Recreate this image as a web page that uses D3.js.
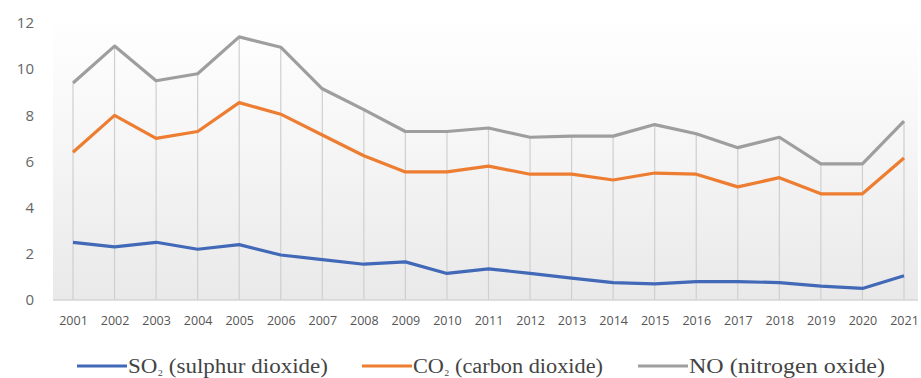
<!DOCTYPE html>
<html><head><meta charset="utf-8">
<script src="https://cdn.jsdelivr.net/npm/d3@7"></script>
<style>body{margin:0;background:#fff}svg{display:block}.leg{font-family:"Liberation Serif","Times New Roman","DejaVu Serif",serif}</style>
</head><body>
<svg id="c" width="921" height="378"></svg>
<script>
const years = ["2001","2002","2003","2004","2005","2006","2007","2008","2009","2010","2011","2012","2013","2014","2015","2016","2017","2018","2019","2020","2021"];
const so2 = [2.5,2.3,2.5,2.2,2.4,1.95,1.75,1.55,1.65,1.15,1.35,1.15,0.95,0.75,0.7,0.8,0.8,0.75,0.6,0.5,1.05];
const co2 = [3.9,5.7,4.5,5.1,6.15,6.1,5.4,4.7,3.9,4.4,4.45,4.3,4.5,4.45,4.8,4.65,4.1,4.55,4.0,4.1,5.1];
const no  = [3.0,3.0,2.5,2.5,2.85,2.9,2.0,2.0,1.75,1.75,1.65,1.6,1.65,1.9,2.1,1.75,1.7,1.75,1.3,1.3,1.6];
const yTicks = [0,2,4,6,8,10,12];
const seriesNames = ["so2","co2","no"];
const legendLabels = [["SO","₂"," (sulphur dioxide)"],["CO","₂"," (carbon dioxide)"],["NO",""," (nitrogen oxide)"]];
const colors = ["#4169b8","#ed7d31","#9e9e9e"];

const svg = d3.select("#c");
const rows = years.map((yr,i)=>({year:yr, so2:so2[i], co2:co2[i], no:no[i]}));
const stacked = d3.stack().keys(seriesNames)(rows);

const plotL = 53, plotR = 918;
const x = d3.scalePoint().domain(years).range([73, 904]);
const y = d3.scaleLinear().domain([0,12]).range([300, 23]);

const defs = svg.append("defs");
const grad = defs.append("linearGradient").attr("id","bg").attr("x1",0).attr("x2",0).attr("y1",0).attr("y2",1);
grad.append("stop").attr("offset","0%").attr("stop-color","#ffffff");
grad.append("stop").attr("offset","45%").attr("stop-color","#f6f6f6");
grad.append("stop").attr("offset","100%").attr("stop-color","#e9e9e9");
svg.append("rect").attr("x",plotL).attr("y",y(12)-10).attr("width",plotR-plotL).attr("height",y(0)-y(12)+10).attr("fill","url(#bg)");

// drop lines
const topSeries = stacked[2];
svg.append("g").selectAll("line").data(topSeries).join("line")
  .attr("x1",d=>x(d.data.year)).attr("x2",d=>x(d.data.year))
  .attr("y1",d=>y(d[1])).attr("y2",y(0))
  .attr("stroke","#cfcfcf").attr("stroke-width",1.2);

// baseline
svg.append("line").attr("x1",plotL).attr("x2",plotR).attr("y1",y(0)).attr("y2",y(0)).attr("stroke","#d4d4d4").attr("stroke-width",1.5);

// y axis
const ya = svg.append("g").attr("transform","translate(34,0)")
  .call(d3.axisLeft(y).tickValues(yTicks).tickSize(0).tickPadding(0));
ya.select(".domain").remove();
ya.selectAll("text").attr("font-family","Open Sans, sans-serif").attr("font-size",15).attr("fill","#666");

// x axis
const xa = svg.append("g").attr("transform","translate(0,316)")
  .call(d3.axisBottom(x).tickSize(0).tickPadding(0));
xa.select(".domain").remove();
xa.selectAll("text").attr("font-family","Open Sans, sans-serif").attr("font-size",12.5).attr("fill","#555");

// lines
const line = d3.line().x(d=>x(d.data.year)).y(d=>y(d[1]));
svg.append("g").selectAll("path").data(stacked).join("path")
  .attr("d",line).attr("fill","none")
  .attr("stroke",(d,i)=>colors[i]).attr("stroke-width",3.2).attr("stroke-linejoin","round");

// legend
const legX = [77, 362, 638];
const legW = [200, 190, 196];
const lg = svg.append("g");
legendLabels.forEach((lab,i)=>{
  lg.append("line").attr("x1",legX[i]).attr("x2",legX[i]+50).attr("y1",366).attr("y2",366).attr("stroke",colors[i]).attr("stroke-width",3);
  const t = lg.append("text").attr("class","leg").attr("x",legX[i]+51).attr("y",373).attr("font-size",20).attr("fill","#444")
    .attr("textLength",legW[i]).attr("lengthAdjust","spacingAndGlyphs");
  t.append("tspan").text(lab[0]);
  if(lab[1]) t.append("tspan").attr("font-size",14).text(lab[1]);
  t.append("tspan").text(lab[2]);
});
</script>
</body></html>
